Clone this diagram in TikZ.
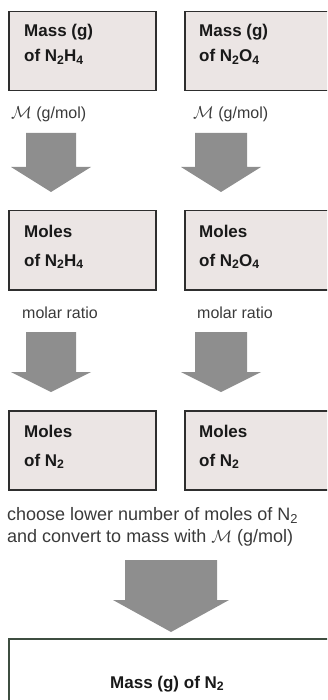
\documentclass[tikz,border=0pt]{standalone}
\usepackage{fontspec}
\setmainfont{Liberation Sans}
\newcommand\chsub[1]{\raisebox{-0.32ex}{\scalebox{0.72}{#1}}}
\definecolor{boxfill}{HTML}{EBE5E4}
\definecolor{boxline}{HTML}{2E2E2E}
\definecolor{arrowfill}{HTML}{8E8E8E}
\definecolor{labeltext}{HTML}{3A3A3A}
\definecolor{finalline}{HTML}{3E4E40}
\tikzset{
  stepbox/.style={draw=boxline, line width=1.5pt, fill=boxfill, rectangle, inner sep=0pt, anchor=north west},
  finalbox/.style={draw=finalline, line width=2pt, fill=white, rectangle, inner sep=0pt, anchor=north west},
  boxtext/.style={anchor=base west, inner sep=0pt, font=\fontsize{17}{20}\selectfont\bfseries, text=black!90},
  labeltxt/.style={anchor=base west, inner sep=0pt, font=\fontsize{16}{19}\selectfont, text=labeltext},
  fatarrow/.style={fill=arrowfill, draw=none}
}
\newcommand\fatarrow[6]{% center x, shaft top, head start, tip, shaft half, head half
  \path[fatarrow] (#1-#5,#2) -- (#1+#5,#2) -- (#1+#5,#3) -- (#1+#6,#3) -- (#1,#4) -- (#1-#6,#3) -- (#1-#5,#3) -- cycle;}
\begin{document}
\begin{tikzpicture}[x=1pt,y=-1pt]
\useasboundingbox (0,0) rectangle (327,700);
\clip (0,0) rectangle (327,700);
% row 1
\node[stepbox, minimum width=147pt, minimum height=79pt] (m1) at (8,11) {};
\node[stepbox, minimum width=160pt, minimum height=79pt] (m2) at (184,11) {};
\node[boxtext] (m1a) at (24,37) {Mass (g)};
\node[boxtext] (m1b) at (24,62) {of N\chsub{2}H\chsub{4}};
\node[boxtext] (m2a) at (199,37) {Mass (g)};
\node[boxtext] (m2b) at (199,62) {of N\chsub{2}O\chsub{4}};
\node[labeltxt] (l1) at (11,119) {$\mathcal{M}$ (g/mol)};
\node[labeltxt] (l2) at (193,119) {$\mathcal{M}$ (g/mol)};
\fatarrow{51}{133}{167}{192}{25}{40}
\fatarrow{221}{133}{167}{192}{26}{40}
% row 2
\node[stepbox, minimum width=147pt, minimum height=79pt] (n1) at (8,210) {};
\node[stepbox, minimum width=160pt, minimum height=79pt] (n2) at (184,210) {};
\node[boxtext] (n1a) at (24,237) {Moles};
\node[boxtext] (n1b) at (24,266) {of N\chsub{2}H\chsub{4}};
\node[boxtext] (n2a) at (199,237) {Moles};
\node[boxtext] (n2b) at (199,266) {of N\chsub{2}O\chsub{4}};
\node[labeltxt] (r1) at (22,318) {molar ratio};
\node[labeltxt] (r2) at (197,318) {molar ratio};
\fatarrow{51}{332}{372}{392}{25}{40}
\fatarrow{221}{332}{372}{392}{26}{40}
% row 3
\node[stepbox, minimum width=147pt, minimum height=79pt] (p1) at (8,410) {};
\node[stepbox, minimum width=160pt, minimum height=79pt] (p2) at (184,410) {};
\node[boxtext] (p1a) at (24,437) {Moles};
\node[boxtext] (p1b) at (24,466) {of N\chsub{2}};
\node[boxtext] (p2a) at (199,437) {Moles};
\node[boxtext] (p2b) at (199,466) {of N\chsub{2}};
\node[labeltxt, font=\fontsize{18}{22}\selectfont] (c1) at (7,520) {choose lower number of moles of N\chsub{2}};
\node[labeltxt, font=\fontsize{18}{22}\selectfont] (c2) at (7,542) {and convert to mass with $\mathcal{M}$ (g/mol)};
\fatarrow{171}{560}{600}{632}{46}{58}
% final
\node[finalbox, minimum width=340pt, minimum height=80pt] (f) at (8,638) {};
\node[boxtext, font=\fontsize{17}{20}\selectfont\bfseries] (fa) at (110,688) {Mass (g) of N\chsub{2}};
\end{tikzpicture}
\end{document}
